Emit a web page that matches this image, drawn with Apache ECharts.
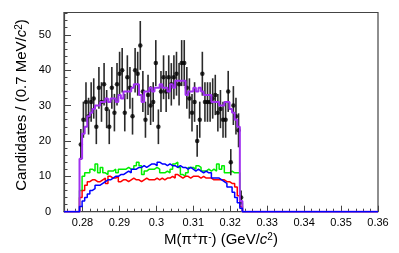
<!DOCTYPE html>
<html>
<head>
<meta charset="utf-8">
<script src="https://cdn.jsdelivr.net/npm/echarts@6/dist/echarts.min.js"></script>
<style>
html,body{margin:0;padding:0;background:#fff;}
#chart{width:399px;height:253px;}
</style>
</head>
<body>
<div id="chart"></div>
<script>
// ---- data ----
const BIN_W = 0.0007; // GeV, histogram bin width
const binCenters = [
  0.27955,0.28025,0.28095,0.28165,0.28235,0.28305,0.28375,0.28445,0.28515,0.28585,
  0.28655,0.28725,0.28795,0.28865,0.28935,0.29005,0.29075,0.29145,0.29215,0.29285,
  0.29355,0.29425,0.29495,0.29565,0.29635,0.29705,0.29775,0.29845,0.29915,0.29985,
  0.30055,0.30125,0.30195,0.30265,0.30335,0.30405,0.30475,0.30545,0.30615,0.30685,
  0.30755,0.30825,0.30895,0.30965,0.31035,0.31105,0.31175,0.31245,0.31315,0.31385,
  0.31455,0.31525,0.31595,0.31665,0.31735,0.31805,0.31875,0.31945,0.32015,0.32085,
  0.32155,0.32225,0.32295
];
const dataCounts = [
  19,26,31,27,31,32,24,35,31,36,
  29,24,35,28,36,39,40,28,38,35,
  27,40,39,47,34,26,33,30,31,42,
  24,34,38,34,38,36,38,39,36,42,
  42,35,32,28,31,20,26,39,31,31,
  31,32,33,28,29,26,26,34,14,30,
  27,23,4
];
const dataErrors = [
  4.4,5.1,5.6,5.2,5.6,5.7,4.9,5.9,5.6,6.0,
  5.4,4.9,5.9,5.3,6.0,6.2,6.3,5.3,6.2,5.9,
  5.2,6.3,6.2,6.9,5.8,5.1,5.7,5.5,5.6,6.5,
  4.9,5.8,6.2,5.8,6.2,6.0,6.2,6.2,6.0,6.5,
  6.5,5.9,5.7,5.3,5.6,4.5,5.1,6.2,5.6,5.6,
  5.6,5.7,5.7,5.3,5.4,5.1,5.1,5.8,3.7,5.5,
  5.2,4.8,2.0
];
const fitTotal = [
  15,22,24,27,28,29,30,30,31,31,
  32,31,32,32,31,33,32,34,34,34,
  35,36,36,33,31,34,34,35,34,35,
  35,36,35,35,34,36,35,37,37,37,
  37,33,34,34,35,34,35,34,33,33,
  33,31,31,31,30,30,31,31,29,28,
  26,24,3
];
const compBlue = [
  1.5,3,4,5,6,6.5,7.5,7.5,8,8.5,
  9,9,9.5,10,10,10.5,10.5,11,11.5,11,
  12,12,12.5,12.5,13,12.5,13,13.5,13.5,13,
  14,13.5,13.5,13,13.5,13,13,12.5,13,12.5,
  12.5,12,12.5,12,11.5,12,11.5,11,11.5,11,
  11,9.5,9.5,9.5,9,8.5,8,7,7,5.5,
  4,2.5,1
];
const compGreen = [
  6,10,11,11,12,11.5,13.5,11,12.5,11,
  10.5,11.5,11.5,12,11,12,12,12,12.5,12,
  12,13,14,13,10.5,11.5,12,12,12,12.5,
  12,11,11,11.5,11,12,13.5,14,12.5,10.5,
  10,11,12.5,12.5,12,13,12.5,11.5,11.5,12,
  11.5,12,11.5,13.5,12,13,11,11,11.5,11,
  11,11,2.5
];
const compRed = [
  4,6,7.5,8.5,9,9,8.5,8.5,9,9.5,
  8,10,9.5,9.5,10,8.5,9,9,8.5,9,
  9.5,9,9,8.5,9,9.5,9,9,9,9.5,
  9,9.5,9,9.5,9.5,10,9.5,10.5,10,9.5,
  10,10,9.5,10,10,10,9.5,10,9.5,9.5,
  9.5,9,9,9,9,9,8.5,8.5,8,8,
  7,4.5,1.5
];
const X_MIN = 0.275, X_MAX = 0.36, Y_MAX = 56.3;

// ---- build step-histogram outlines from the arrays ----
function histLine(values){
  const pts = [[X_MIN, 0]];
  for (let k = 0; k < values.length; k++) {
    pts.push([binCenters[k] - BIN_W/2, values[k]]);
  }
  pts.push([binCenters[binCenters.length-1] + BIN_W/2, 0]);
  pts.push([X_MAX, 0]);
  return pts;
}
const pointData = binCenters.map((x,i)=>[x, dataCounts[i], dataErrors[i]]);

function histSeries(name, values, color, width, z){
  return {
    name, type:'line', step:'end', data: histLine(values),
    showSymbol:false, symbol:'none', z,
    lineStyle:{color, width}, animation:false, silent:true
  };
}

const chart = echarts.init(document.getElementById('chart'), null, {renderer:'canvas'});
const axisColor = '#444';
const labelFont = {fontFamily:'Liberation Sans, Arial, sans-serif', fontSize:11, color:'#000'};
chart.setOption({
  animation:false,
  backgroundColor:'#fff',
  grid:{left:64, right:21, top:12.5, bottom:41.3, show:true, borderColor:axisColor, borderWidth:1.2, backgroundColor:'transparent'},
  xAxis:{
    type:'value', min:X_MIN, max:X_MAX, splitNumber:8,
    axisLine:{show:true, onZero:false, lineStyle:{color:axisColor, width:1.2}},
    axisTick:{show:true, inside:true, length:6, lineStyle:{color:axisColor}},
    minorTick:{show:true, splitNumber:5, length:3, lineStyle:{color:axisColor}},
    splitLine:{show:false},
    axisLabel:Object.assign({margin:6, showMinLabel:false, showMaxLabel:true}, labelFont)
  },
  yAxis:{
    type:'value', min:0, max:Y_MAX, interval:10,
    axisLine:{show:true, lineStyle:{color:axisColor, width:1.2}},
    axisTick:{show:true, inside:true, length:7, lineStyle:{color:axisColor}},
    minorTick:{show:true, splitNumber:5, length:3.5, lineStyle:{color:axisColor}},
    splitLine:{show:false},
    axisLabel:Object.assign({margin:13, showMaxLabel:false}, labelFont)
  },
  graphic:[
    {type:'text', x:22, y:105, rotation:Math.PI/2, z:100,
     style:{text:'Candidates / (0.7 MeV/{i|c}{s|2})', fill:'#000',
       font:'15px "Liberation Sans", Arial, sans-serif', align:'center', verticalAlign:'middle',
       rich:{i:{fontStyle:'italic', fontSize:15, fontFamily:'Liberation Sans'}, s:{fontSize:10, verticalAlign:'top', fontFamily:'Liberation Sans'}}}},
    {type:'text', x:221, y:240, z:100,
     style:{text:'M(π{s|+}π{s|-}) (GeV/{i|c}{s|2})', fill:'#000',
       font:'15px "Liberation Sans", Arial, sans-serif', align:'center', verticalAlign:'middle',
       rich:{i:{fontStyle:'italic', fontSize:15, fontFamily:'Liberation Sans'}, s:{fontSize:10, verticalAlign:'top', fontFamily:'Liberation Sans'}}}}
  ],
  series:[
    histSeries('green', compGreen, '#00ee00', 1.5, 2),
    histSeries('red', compRed, '#ff0000', 1.5, 3),
    {
      name:'errors', type:'custom', z:5, animation:false, silent:true,
      data: pointData,
      renderItem:function(params, api){
        const x = api.value(0), y = api.value(1), e = api.value(2);
        const p1 = api.coord([x, y - e]);
        const p2 = api.coord([x, y + e]);
        return {type:'line', shape:{x1:p1[0], y1:p1[1], x2:p2[0], y2:p2[1]},
                style:{stroke:'#2a2a2a', lineWidth:1.6}};
      },
      encode:{x:0, y:1}
    },
    {
      name:'data', type:'scatter', z:6, data: pointData.map(d=>[d[0], d[1]]),
      symbol:'circle', symbolSize:4.5, itemStyle:{color:'#000'}, animation:false, silent:true
    },
    histSeries('fit', fitTotal, '#a030f0', 2, 7),
    histSeries('blue', compBlue, '#0000ff', 1.5, 8)
  ]
});
</script>
</body>
</html>
